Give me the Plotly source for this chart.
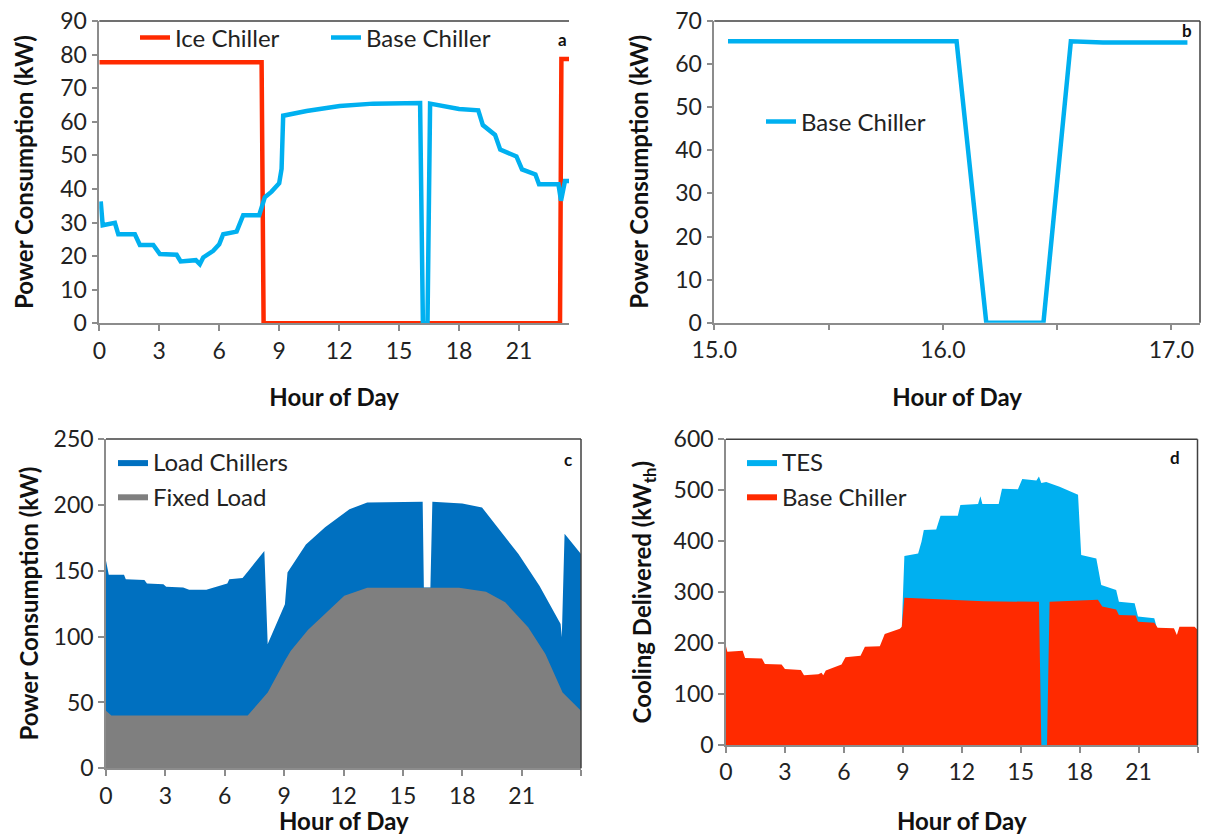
import plotly.graph_objects as go

# ---------------- data ----------------
# Panel a: power consumption over the day
a_hours_base = [0.07, 0.17, 0.78, 0.95, 1.78, 2.03, 2.7, 3.03, 3.87, 4.07, 4.83, 5.03, 5.2, 5.7, 6.0, 6.2,
                6.87, 7.2, 8.0, 8.28, 8.62, 9.0, 9.12, 9.2, 10.37, 12.03, 13.7, 16.05, 16.19, 16.42, 16.55,
                18.0, 18.96, 19.19, 19.8, 20.06, 20.87, 21.15, 21.82, 22.0, 22.97, 23.1, 23.3, 23.5]
a_base_kw = [36.3, 29.2, 29.9, 26.5, 26.5, 23.3, 23.3, 20.6, 20.4, 18.4, 18.8, 17.6, 19.6, 21.6, 23.5, 26.5,
             27.3, 32.2, 32.2, 37.5, 39.2, 41.7, 46.0, 61.8, 63.2, 64.7, 65.4, 65.6, 0, 0, 65.4,
             63.8, 63.4, 59.0, 56.1, 51.7, 49.7, 45.8, 44.3, 41.4, 41.4, 36.5, 42.4, 42.4]
a_hours_ice = [0, 8.12, 8.22, 23.05, 23.12, 23.5]
a_ice_kw = [77.7, 77.7, 0, 0, 78.7, 78.7]

# Panel b: zoom 15-17 h
b_hours = [15.06, 16.06, 16.19, 16.44, 16.56, 16.7, 17.07]
b_base_kw = [65.3, 65.3, 0, 0, 65.3, 65.0, 65.0]

# Panel c: stacked power consumption (top of stack = fixed + load chillers)
c_hours_total = [0, 0.14, 0.91, 1.0, 1.94, 2.07, 2.9, 3.04, 3.9, 4.2, 5.07, 6.13, 6.23, 6.9, 7.2, 8.0,
                 8.17, 9.04, 9.17, 10.1, 11.07, 12.3, 13.2, 16.0, 16.06, 16.39, 16.49, 18.0, 19.0, 19.78,
                 20.84, 21.9, 22.97, 23.03, 23.17, 24.0]
c_total_kw = [157.5, 147, 147, 143.6, 143, 140.3, 139.8, 137.8, 137.3, 135.5, 135.5, 140.3, 143.6, 144.4,
              150, 165, 94.3, 124.6, 148.7, 170, 183, 196.7, 201.8, 202.3, 137.3, 137.3, 202.3, 201, 198,
              183, 162.6, 138.6, 109.5, 99.4, 178, 162.6]
c_hours_fixed = [0, 0.27, 7.16, 8.17, 9.04, 9.33, 10.2, 11.07, 12.04, 13.2, 17.84, 19.2, 20.17, 21.33,
                 22.2, 23.07, 24.0]
c_fixed_kw = [43.7, 40, 40, 57.6, 81.7, 89, 105, 117, 131, 137, 137, 134, 126, 107, 86.7, 57.6, 43.7]

# Panel d: cooling delivered (top of stack = base chiller + TES)
d_hours_base = [0, 0.07, 0.85, 0.97, 1.83, 1.98, 2.83, 3.0, 3.81, 3.97, 4.7, 4.86, 4.95, 5.08, 5.88,
                6.08, 6.85, 7.07, 7.83, 8.08, 8.85, 8.95, 9.08, 10.54, 13.1, 15.93, 16.05, 16.34, 16.47,
                18.93, 19.15, 19.86, 20.0, 20.85, 20.97, 21.8, 21.97, 22.8, 22.95, 23.08, 23.85, 24.0]
d_base_kwth = [194, 183, 185, 171, 170, 159, 158, 149, 147, 137, 139, 142, 137, 146, 158,
               172, 175, 193, 194, 218, 228, 232, 289, 286, 282, 281, 0, 0, 281,
               285, 272, 266, 255, 254, 242, 240, 230, 229, 216, 232, 232, 226]
d_hours_total = [8.95, 9.08, 9.78, 9.95, 10.07, 10.7, 10.92, 11.8, 11.93, 12.83, 12.95, 13.05, 13.88,
                 14.05, 14.86, 15.08, 15.8, 15.93, 16.05, 16.3, 16.98, 17.92, 18.08, 18.85, 19.1, 19.86,
                 20.0, 20.8, 20.97, 21.8, 21.93, 22.0]
d_total_kwth = [232, 371, 376, 399, 422, 423, 450, 450, 471, 473, 488, 473, 473,
                503, 502, 522, 519, 527, 514, 516, 507, 491, 373, 366, 314, 304,
                281, 278, 252, 249, 230, 229]

hour_ticks = [0, 3, 6, 9, 12, 15, 18, 21]
zoom_ticks = [15, 16, 17]
zoom_text = ["15.0", "16.0", "17.0"]

# ---------------- style ----------------
FONT = "Lato"
RED = "#FF2A00"
LIGHTBLUE = "#00B0F0"
DARKBLUE = "#0070C0"
GREY = "#7F7F7F"
AXIS = "#8C8C8C"
OFF = 8                 # the page body adds an 8 px margin around the figure
FW, FH = 1217 - OFF, 835 - OFF


def sx(px):
    return (px - OFF) / FW


def sy(py):
    return 1 - (py - OFF) / FH


def dom_x(p0, p1):
    return [sx(p0), sx(p1)]


def dom_y(top, bottom):
    return [sy(bottom), sy(top)]


fig = go.Figure()

# panel a
fig.add_trace(go.Scatter(x=a_hours_ice, y=a_ice_kw, mode="lines", name="Ice Chiller",
                         line=dict(color=RED, width=4.5), xaxis="x", yaxis="y", legend="legend"))
fig.add_trace(go.Scatter(x=a_hours_base, y=a_base_kw, mode="lines", name="Base Chiller",
                         line=dict(color=LIGHTBLUE, width=4.5), xaxis="x", yaxis="y", legend="legend"))
# panel b
fig.add_trace(go.Scatter(x=b_hours, y=b_base_kw, mode="lines", name="Base Chiller",
                         line=dict(color=LIGHTBLUE, width=4.5), xaxis="x2", yaxis="y2", legend="legend2"))
# panel c
fig.add_trace(go.Scatter(x=c_hours_total, y=c_total_kw, mode="lines", name="Load Chillers", fill="tozeroy",
                         fillcolor=DARKBLUE, line=dict(color=DARKBLUE, width=0), xaxis="x3", yaxis="y3",
                         legend="legend3"))
fig.add_trace(go.Scatter(x=c_hours_fixed, y=c_fixed_kw, mode="lines", name="Fixed Load", fill="tozeroy",
                         fillcolor=GREY, line=dict(color=GREY, width=0), xaxis="x3", yaxis="y3",
                         legend="legend3"))
# panel d
fig.add_trace(go.Scatter(x=d_hours_total, y=d_total_kwth, mode="lines", name="TES", fill="tozeroy",
                         fillcolor=LIGHTBLUE, line=dict(color=LIGHTBLUE, width=0), xaxis="x4", yaxis="y4",
                         legend="legend4"))
fig.add_trace(go.Scatter(x=d_hours_base, y=d_base_kwth, mode="lines", name="Base Chiller", fill="tozeroy",
                         fillcolor=RED, line=dict(color=RED, width=0), xaxis="x4", yaxis="y4",
                         legend="legend4"))

tickfont = dict(family=FONT, size=23, color="#222")
titlefont = dict(family=FONT, size=24, color="#111", weight="bold")
legfont = dict(family=FONT, size=24, color="#222")


def xax(domain, anchor, rng, tickvals, ticktext, minor_dtick, title, standoff):
    ax = dict(domain=domain, anchor=anchor, range=rng, tickvals=tickvals, ticktext=ticktext,
              showline=True, linecolor=AXIS, linewidth=1.5, ticks="outside", ticklen=6,
              tickcolor=AXIS, tickwidth=1.5, showgrid=False, zeroline=False, tickfont=tickfont,
              minor=dict(dtick=minor_dtick, tick0=0, ticks="outside", ticklen=6, tickcolor=AXIS,
                         tickwidth=1.5, showgrid=False),
              ticklabeloverflow="allow", automargin=False)
    if title:
        ax["title"] = dict(text=title, font=titlefont, standoff=standoff)
    return ax


def yax(domain, anchor, rng, dtick, title, standoff):
    return dict(domain=domain, anchor=anchor, range=rng, dtick=dtick, tick0=0,
                showline=True, linecolor=AXIS, linewidth=1.5, ticks="outside", ticklen=6,
                tickcolor=AXIS, tickwidth=1.5, showgrid=False, zeroline=False, tickfont=tickfont,
                ticklabeloverflow="allow", automargin=False,
                title=dict(text=title, font=titlefont, standoff=standoff))


fig.update_layout(
    template="none",
    width=FW, height=FH, plot_bgcolor="white", paper_bgcolor="white",
    margin=dict(l=0, r=0, t=0, b=0, autoexpand=False), showlegend=True,
    font=dict(family=FONT, size=22, color="#222"),
    xaxis=xax(dom_x(99.3, 569), "y", [0, 23.5], hour_ticks, [str(v) for v in hour_ticks], 3,
              "Hour of Day", 27),
    yaxis=yax(dom_y(21, 323.3), "x", [0, 90], 10, "Power Consumption (kW)", 20),
    xaxis2=xax(dom_x(714.3, 1200), "y2", [15, 17.125], zoom_ticks, zoom_text, 0.5, "Hour of Day", 27),
    yaxis2=yax(dom_y(21, 322.7), "x2", [0, 70], 10, "Power Consumption (kW)", 20),
    xaxis3=xax(dom_x(106, 581), "y3", [0, 24], hour_ticks, [str(v) for v in hour_ticks], 3, None, 0),
    yaxis3=yax(dom_y(439, 768.3), "x3", [0, 250], 50, "Power Consumption (kW)", 8),
    xaxis4=xax(dom_x(726, 1197.5), "y4", [0, 24], hour_ticks, [str(v) for v in hour_ticks], 3,
               "Hour of Day", 29),
    yaxis4=yax(dom_y(439.3, 745), "x4", [0, 600], 100, "Cooling Delivered (kW<sub>th</sub>)", 15),
    legend=dict(orientation="h", x=sx(135), y=sy(38), xanchor="left", yanchor="middle",
                entrywidth=146, bgcolor="rgba(0,0,0,0)", font=legfont),
    legend2=dict(x=sx(761), y=sy(122), xanchor="left", yanchor="middle",
                 bgcolor="rgba(0,0,0,0)", font=legfont),
    legend3=dict(x=sx(113), y=sy(440), xanchor="left", yanchor="top",
                 bgcolor="rgba(0,0,0,0)", font=legfont),
    legend4=dict(x=sx(742), y=sy(440), xanchor="left", yanchor="top",
                 bgcolor="rgba(0,0,0,0)", font=legfont),
)

# x title of panel c sits right under its tick labels (partly cut by the image edge)
fig.add_annotation(xref="x3 domain", yref="paper", x=0.5, y=sy(820), text="Hour of Day",
                   showarrow=False, yanchor="middle", font=titlefont)

# panel borders (top / right) and panel letters
border = dict(color="#404040", width=1.5)
for xr, yr, right in [("x", "y", False), ("x2", "y2", True), ("x3", "y3", True), ("x4", "y4", True)]:
    fig.add_shape(type="line", xref=f"{xr} domain", yref=f"{yr} domain", x0=0, x1=1, y0=1, y1=1,
                  line=border, layer="above")
    if right:
        fig.add_shape(type="line", xref=f"{xr} domain", yref=f"{yr} domain", x0=1, x1=1, y0=0, y1=1,
                      line=border, layer="above")

for xr, yr, lx, ly, txt in [("x", "y", 0.987, 0.94, "a"), ("x2", "y2", 0.973, 0.967, "b"),
                            ("x3", "y3", 0.973, 0.938, "c"), ("x4", "y4", 0.952, 0.942, "d")]:
    fig.add_annotation(xref=f"{xr} domain", yref=f"{yr} domain", x=lx, y=ly, text=txt, showarrow=False,
                       xanchor="center", yanchor="middle",
                       font=dict(family=FONT, size=17, color="#111", weight="bold"))

fig.write_html("out.html")
